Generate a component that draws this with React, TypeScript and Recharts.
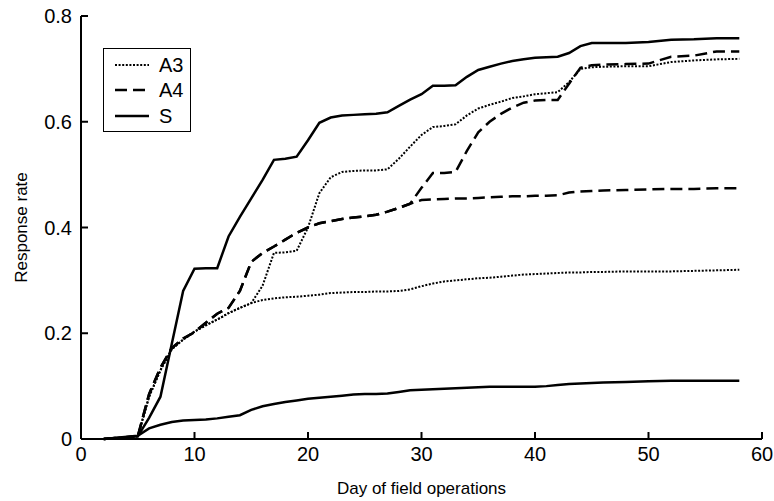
import { LineChart, Line, XAxis, YAxis } from "recharts";

const days = [2, 5, 6, 7, 8, 9, 10, 11, 12, 13, 14, 15, 16, 17, 18, 19, 20, 21, 22, 23, 24, 25, 26, 27, 28, 29, 30, 31, 32, 33, 34, 35, 36, 37, 38, 39, 40, 41, 42, 43, 44, 45, 46, 48, 50, 52, 54, 56, 58];

const sUpper = [0, 0.005, 0.04, 0.08, 0.18, 0.28, 0.322, 0.323, 0.323, 0.383, 0.42, 0.455, 0.49, 0.528, 0.53, 0.534, 0.565, 0.598, 0.608, 0.612, 0.613, 0.614, 0.615, 0.618, 0.63, 0.642, 0.652, 0.668, 0.668, 0.669, 0.685, 0.698, 0.704, 0.71, 0.715, 0.718, 0.721, 0.722, 0.723, 0.73, 0.743, 0.749, 0.749, 0.749, 0.751, 0.755, 0.756, 0.758, 0.758];
const sLower = [0, 0.006, 0.02, 0.027, 0.032, 0.035, 0.036, 0.037, 0.039, 0.042, 0.045, 0.055, 0.062, 0.066, 0.07, 0.073, 0.076, 0.078, 0.08, 0.082, 0.084, 0.085, 0.085, 0.086, 0.089, 0.092, 0.093, 0.094, 0.095, 0.096, 0.097, 0.098, 0.099, 0.099, 0.099, 0.099, 0.099, 0.1, 0.102, 0.104, 0.105, 0.106, 0.107, 0.108, 0.109, 0.11, 0.11, 0.11, 0.11];
const a3Upper = [0, 0.005, 0.08, 0.13, 0.17, 0.188, 0.203, 0.215, 0.226, 0.238, 0.248, 0.257, 0.29, 0.352, 0.353, 0.356, 0.4, 0.465, 0.495, 0.505, 0.507, 0.508, 0.508, 0.51, 0.53, 0.553, 0.575, 0.59, 0.592, 0.595, 0.612, 0.625, 0.632, 0.638, 0.645, 0.648, 0.652, 0.654, 0.656, 0.675, 0.7, 0.703, 0.704, 0.705, 0.705, 0.713, 0.716, 0.718, 0.719];
const a3Lower = [0, 0.005, 0.08, 0.13, 0.17, 0.188, 0.203, 0.215, 0.226, 0.238, 0.248, 0.257, 0.263, 0.266, 0.268, 0.269, 0.271, 0.273, 0.276, 0.277, 0.278, 0.278, 0.279, 0.279, 0.28, 0.283, 0.289, 0.294, 0.298, 0.3, 0.302, 0.304, 0.305, 0.307, 0.309, 0.311, 0.312, 0.313, 0.314, 0.315, 0.315, 0.316, 0.316, 0.317, 0.317, 0.317, 0.318, 0.319, 0.32];
const a4Upper = [0, 0.005, 0.085, 0.135, 0.172, 0.19, 0.202, 0.22, 0.237, 0.248, 0.28, 0.335, 0.352, 0.364, 0.377, 0.39, 0.4, 0.408, 0.412, 0.416, 0.419, 0.421, 0.424, 0.43, 0.437, 0.445, 0.475, 0.503, 0.503, 0.505, 0.545, 0.58, 0.6, 0.615, 0.627, 0.636, 0.64, 0.641, 0.641, 0.672, 0.702, 0.707, 0.708, 0.709, 0.71, 0.723, 0.725, 0.733, 0.733];
const a4Lower = [0, 0.005, 0.085, 0.135, 0.172, 0.19, 0.202, 0.22, 0.237, 0.248, 0.28, 0.335, 0.352, 0.364, 0.377, 0.39, 0.4, 0.408, 0.412, 0.416, 0.419, 0.421, 0.424, 0.43, 0.437, 0.445, 0.452, 0.453, 0.454, 0.455, 0.455, 0.456, 0.457, 0.458, 0.459, 0.459, 0.46, 0.46, 0.461, 0.466, 0.468, 0.469, 0.47, 0.471, 0.472, 0.473, 0.473, 0.474, 0.474];

const xTicks = [0, 10, 20, 30, 40, 50, 60];
const yTicks = [0, 0.2, 0.4, 0.6, 0.8];

const data = days.map((d, i) => ({
  day: d,
  sUpper: sUpper[i],
  sLower: sLower[i],
  a3Upper: a3Upper[i],
  a3Lower: a3Lower[i],
  a4Upper: a4Upper[i],
  a4Lower: a4Lower[i],
}));

const FONT = "'Liberation Sans', Arial, sans-serif";
const DOTTED = "2 1.6";
const DASHED = "12 6";

const LEGEND_ITEMS = [
  { label: "A3", dash: DOTTED, width: 2 },
  { label: "A4", dash: DASHED, width: 2.5 },
  { label: "S", dash: undefined, width: 2.5 },
];

// legend drawn as an overlay so it doesn't shrink the plot area
const LegendBox = () => (
  <div style={{ position: "absolute", left: 103, top: 48, border: "1.5px solid #000", width: 86, padding: "3px 0 2px 0", background: "#fff", fontFamily: FONT }}>
    {LEGEND_ITEMS.map(item => (
      <div key={item.label} style={{ display: "flex", alignItems: "center", height: 25.5 }}>
        <svg width={44} height={10} style={{ marginLeft: 11 }}>
          <line x1={0} y1={5} x2={34} y2={5} stroke="#000" strokeWidth={item.width} strokeDasharray={item.dash} />
        </svg>
        <span style={{ fontSize: 20, color: "#000", lineHeight: 1 }}>{item.label}</span>
      </div>
    ))}
  </div>
);

export default function App() {
  const tickStyle = { fill: "#000", fontSize: 20, fontFamily: FONT };
  return (
    <div style={{ position: "relative", width: 774, height: 501, overflow: "hidden" }}>
      <style>{"body { margin: 0; }"}</style>
      <LineChart width={774} height={501} data={data} margin={{ top: 16, right: 12, bottom: 0, left: 0 }}>
        <XAxis
          dataKey="day"
          type="number"
          domain={[0, 60]}
          ticks={xTicks}
          interval={0}
          height={62}
          tick={tickStyle}
          tickSize={-7}
          tickMargin={15}
          axisLine={{ stroke: "#000", strokeWidth: 2 }}
          tickLine={{ stroke: "#000", strokeWidth: 2 }}
          label={{ value: "Day of field operations", position: "insideBottom", offset: 7, style: { fill: "#000", fontSize: 17, fontFamily: FONT } }}
        />
        <YAxis
          type="number"
          domain={[0, 0.8]}
          ticks={yTicks}
          interval={0}
          width={81}
          tick={tickStyle}
          tickSize={-7}
          tickMargin={16}
          axisLine={{ stroke: "#000", strokeWidth: 2 }}
          tickLine={{ stroke: "#000", strokeWidth: 2 }}
          label={{ value: "Response rate", angle: -90, position: "insideLeft", offset: 21, style: { textAnchor: "middle", fill: "#000", fontSize: 17, fontFamily: FONT } }}
        />
        <Line type="linear" dataKey="sLower" stroke="#000" strokeWidth={2.5} dot={false} isAnimationActive={false} />
        <Line type="linear" dataKey="a3Lower" stroke="#000" strokeWidth={2} strokeDasharray={DOTTED} dot={false} isAnimationActive={false} />
        <Line type="linear" dataKey="a4Lower" stroke="#000" strokeWidth={2.5} strokeDasharray={DASHED} dot={false} isAnimationActive={false} />
        <Line type="linear" dataKey="a3Upper" stroke="#000" strokeWidth={2} strokeDasharray={DOTTED} dot={false} isAnimationActive={false} />
        <Line type="linear" dataKey="a4Upper" stroke="#000" strokeWidth={2.5} strokeDasharray={DASHED} dot={false} isAnimationActive={false} />
        <Line type="linear" dataKey="sUpper" stroke="#000" strokeWidth={2.5} dot={false} isAnimationActive={false} />
      </LineChart>
      <LegendBox />
    </div>
  );
}
